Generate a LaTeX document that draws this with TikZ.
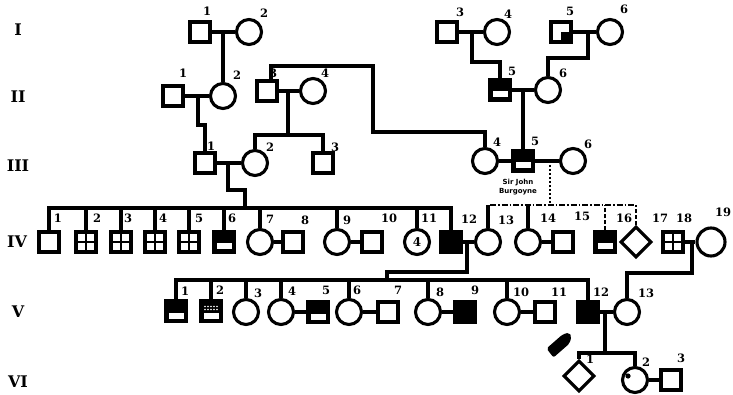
\documentclass[tikz,border=0pt]{standalone}
\usepackage{fontspec}
\newfontfamily\labfont{DejaVu Serif}
\newfontfamily\sjbfont{DejaVu Sans}
\usetikzlibrary{shapes.geometric,calc}
\begin{document}
\begin{tikzpicture}[x=1pt,y=-1pt,
  ln/.style={line width=3.1pt},
  sq/.style={draw,rectangle,line width=3.1pt,minimum size=20pt,inner sep=0pt},
  ci/.style={draw,circle,line width=3.1pt,minimum size=25pt,inner sep=0pt},
  di/.style={draw,diamond,line width=3.1pt,minimum size=31pt,inner sep=0pt},
  aff/.style={sq,fill=black},
  bar/.style={sq,fill=black,path picture={\fill[white] ([xshift=2.5pt,yshift=2.5pt]path picture bounding box.south west) rectangle ([xshift=-2.5pt,yshift=8.5pt]path picture bounding box.south east);}},
  hat/.style={sq,fill=black,path picture={\fill[white] ([xshift=2.5pt,yshift=2.5pt]path picture bounding box.south west) rectangle ([xshift=-2.5pt,yshift=8.5pt]path picture bounding box.south east);
      \foreach \i in {-6,-3,0,3,6} {\foreach \j in {1.5,4.5} {\fill[white] ([xshift=\i pt,yshift=\j pt]path picture bounding box.center) circle (0.8pt);}}}},
  grd/.style={sq,path picture={\draw[line width=2.2pt] (path picture bounding box.north) -- (path picture bounding box.south) (path picture bounding box.west) -- (path picture bounding box.east);}},
  qd/.style={sq,path picture={\fill (path picture bounding box.center) rectangle (path picture bounding box.south east);}},
  lab/.style={font=\labfont\fontsize{11.5}{11.5}\selectfont\bfseries,inner sep=0pt},
  gen/.style={font=\labfont\fontsize{16}{16}\selectfont\bfseries,inner sep=0pt}
]
\useasboundingbox (0,0) rectangle (733,395);

% generation labels
\node[gen] (gI) at (18,30) {I};
\node[gen] (gII) at (18,97) {II};
\node[gen] (gIII) at (18,166) {III};
\node[gen] (gIV) at (17,242) {IV};
\node[gen] (gV) at (18,312) {V};
\node[gen] (gVI) at (18,382) {VI};

% generation I
\node[sq] (I1) at (200,32) {};
\node[ci] (I2) at (249,32) {};
\node[sq] (I3) at (447,32) {};
\node[ci] (I4) at (497,32) {};
\node[qd] (I5) at (561,32) {};
\node[ci] (I6) at (610,32) {};
% generation II
\node[sq] (II1) at (173,96) {};
\node[ci] (II2) at (223,96) {};
\node[sq] (II3) at (267,91) {};
\node[ci] (II4) at (313,91) {};
\node[bar] (II5) at (500,90) {};
\node[ci] (II6) at (548,90) {};
% generation III
\node[sq] (III1) at (205,163) {};
\node[ci] (III2) at (255,163) {};
\node[sq] (III3) at (323,163) {};
\node[ci] (III4) at (485,161) {};
\node[bar] (III5) at (523,161) {};
\node[ci] (III6) at (573,161) {};
\node[font=\sjbfont\bfseries\fontsize{7}{8.5}\selectfont,align=center,inner sep=0pt] (sjb) at (518,187) {Sir John\\Burgoyne};
% generation IV
\node[sq] (IV1) at (49,242) {};
\node[grd] (IV2) at (86,242) {};
\node[grd] (IV3) at (121,242) {};
\node[grd] (IV4) at (155,242) {};
\node[grd] (IV5) at (189,242) {};
\node[bar] (IV6) at (224,242) {};
\node[ci] (IV7) at (260,242) {};
\node[sq] (IV8) at (293,242) {};
\node[ci] (IV9) at (337,242) {};
\node[sq] (IV10) at (372,242) {};
\node[ci,font=\labfont\fontsize{12}{12}\selectfont\bfseries] (IV11) at (417,242) {4};
\node[aff] (IV12) at (451,242) {};
\node[ci] (IV13) at (488,242) {};
\node[ci] (IV14) at (528,242) {};
\node[sq] (IV15) at (563,242) {};
\node[bar] (IV16) at (605,242) {};
\node[di] (IV17) at (636,242) {};
\node[grd] (IV18) at (673,242) {};
\node[ci,minimum size=28pt] (IV19) at (711,242) {};
% generation V
\node[bar] (V1) at (176,311) {};
\node[hat] (V2) at (211,311) {};
\node[ci] (V3) at (246,312) {};
\node[ci] (V4) at (281,312) {};
\node[bar] (V5) at (318,312) {};
\node[ci] (V6) at (349,312) {};
\node[sq] (V7) at (388,312) {};
\node[ci] (V8) at (428,312) {};
\node[aff] (V9) at (465,312) {};
\node[ci] (V10) at (507,312) {};
\node[sq] (V11) at (545,312) {};
\node[aff] (V12) at (588,312) {};
\node[ci] (V13) at (627,312) {};
% generation VI
\node[di] (VI1) at (579,376) {};
\node[ci] (VI2) at (635,380) {};
\node[sq] (VI3) at (671,380) {};
\fill (628,376) circle (2.6pt);

% number labels
\begin{scope}[lab]
\node (lI1) at (207,11) {1};  \node (lI2) at (264,13) {2};
\node (lI3) at (460,12) {3};  \node (lI4) at (508,14) {4};
\node (lI5) at (570,11) {5};  \node (lI6) at (624,9) {6};
\node (lII1) at (183,73) {1}; \node (lII2) at (237,75) {2};
\node (lII3) at (273,73) {3}; \node (lII4) at (325,73) {4};
\node (lII5) at (512,71) {5}; \node (lII6) at (563,73) {6};
\node (lIII1) at (211,146) {1}; \node (lIII2) at (270,147) {2};
\node (lIII3) at (335,147) {3}; \node (lIII4) at (497,142) {4};
\node (lIII5) at (535,141) {5}; \node (lIII6) at (588,144) {6};
\node (lIV1) at (58,218) {1};   \node (lIV2) at (97,218) {2};
\node (lIV3) at (128,218) {3};  \node (lIV4) at (163,218) {4};
\node (lIV5) at (199,218) {5};  \node (lIV6) at (232,218) {6};
\node (lIV7) at (270,219) {7};  \node (lIV8) at (305,220) {8};
\node (lIV9) at (347,220) {9};  \node (lIV10) at (389,218) {10};
\node (lIV11) at (429,218) {11}; \node (lIV12) at (469,219) {12};
\node (lIV13) at (506,220) {13}; \node (lIV14) at (548,218) {14};
\node (lIV15) at (582,216) {15}; \node (lIV16) at (624,218) {16};
\node (lIV17) at (660,218) {17}; \node (lIV18) at (684,218) {18};
\node (lIV19) at (723,212) {19};
\node (lV1) at (185,291) {1};  \node (lV2) at (220,290) {2};
\node (lV3) at (258,293) {3};  \node (lV4) at (292,291) {4};
\node (lV5) at (326,290) {5};  \node (lV6) at (357,290) {6};
\node (lV7) at (398,290) {7};  \node (lV8) at (440,292) {8};
\node (lV9) at (475,290) {9};  \node (lV10) at (521,292) {10};
\node (lV11) at (559,292) {11}; \node (lV12) at (601,292) {12};
\node (lV13) at (646,293) {13};
\node (lVI1) at (590,359) {1}; \node (lVI2) at (646,362) {2};
\node (lVI3) at (681,358) {3};
\end{scope}

% pointing hand
\fill[rounded corners=2pt] (546.5,348.5) -- (562.5,334.5) -- (569,332.5) -- (571.5,336.5) -- (569.5,343.5) -- (553.5,357.5) -- cycle;

% connectors
\begin{scope}[ln]
% I
\draw (I1) -- (I2);
\coordinate (mI12) at (223,32);
\draw (mI12) -- (II2.north);
\draw (I3) -- (I4);
\coordinate (mI34) at (472,32);
\coordinate (jI34) at (0,62);
\draw (mI34) |- (jI34 -| II5) -- (II5.north);
\draw (I5) -- (I6);
\coordinate (mI56) at (588,32);
\coordinate (jI56) at (0,58);
\draw (mI56) |- (jI56 -| II6) -- (II6.north);
% II
\draw (II1) -- (II2);
\coordinate (mII12) at (198,96);
\coordinate (jII12) at (0,125);
\draw (mII12) |- (jII12 -| III1) -- (III1.north);
\draw (II3) -- (II4);
\coordinate (mII34) at (288,91);
\coordinate (sII34) at (288,135);
\draw (mII34) -- (sII34);
\draw (III2.north) |- (sII34) -| (III3.north);
\coordinate (tII3) at (271,66);
\coordinate (kII3) at (373,132);
\draw (tII3 |- II3.north) -- (tII3) -| (kII3) -| (III4.north);
\draw (II5) -- (II6);
\coordinate (mII56) at (523,90);
\draw (mII56) -- (III5.north);
% III
\draw (III1) -- (III2);
\coordinate (mIII12) at (228,163);
\coordinate (jIII12) at (245,190);
\coordinate (sIV) at (245,208);
\draw (mIII12) |- (jIII12) -- (sIV);
\draw (IV1.north) |- (sIV) -| (IV12.north);
\foreach \n in {IV2,IV3,IV4,IV5,IV6,IV7,IV9,IV11}
  \draw (\n.north) -- (\n.north |- sIV);
\draw (III4) -- (III5);
\draw (III5) -- (III6);
\coordinate (mIII56) at (550,161);
\coordinate (dIV) at (550,205);
\coordinate (dIVL) at (490,205);
\coordinate (dIVR) at (634,205);
\draw[line width=1.3pt,dash pattern=on 2.5pt off 1.5pt] (mIII56) -- (dIV);
\draw[line width=2.2pt,dash pattern=on 6pt off 2pt on 1.5pt off 2pt] (dIVL) -- (dIVR);
\draw (IV13.north) -- (IV13.north |- dIVL);
\draw (IV14.north) -- (IV14.north |- dIVL);
\draw[line width=2.2pt,dash pattern=on 4pt off 2pt] (IV16.north) -- (IV16.north |- dIVL);
\draw[line width=2.2pt,dash pattern=on 4pt off 2pt] (IV17.north) -- (IV17.north |- dIVR);
% IV
\draw (IV7) -- (IV8);
\draw (IV9) -- (IV10);
\draw (IV12) -- (IV13);
\draw (IV14) -- (IV15);
\draw (IV18) -- (IV19);
\coordinate (mIV1213) at (467,242);
\coordinate (jIV1213) at (387,272);
\coordinate (sV) at (387,280);
\draw (mIV1213) |- (jIV1213) -- (sV);
\draw (V1.north) |- (sV) -| (V12.north);
\foreach \n in {V2,V3,V4,V6,V8,V10}
  \draw (\n.north) -- (\n.north |- sV);
\coordinate (mIV1819) at (692,242);
\coordinate (jIV1819) at (0,273);
\draw (mIV1819) |- (jIV1819 -| V13) -- (V13.north);
% V
\draw (V4) -- (V5);
\draw (V6) -- (V7);
\draw (V8) -- (V9);
\draw (V10) -- (V11);
\draw (V12) -- (V13);
\coordinate (mV1213) at (605,312);
\coordinate (sVI) at (605,353);
\draw (mV1213) -- (sVI);
\draw (VI1.north) |- (sVI) -| (VI2.north);
% VI
\draw (VI2) -- (VI3);
\end{scope}
\end{tikzpicture}
\end{document}
